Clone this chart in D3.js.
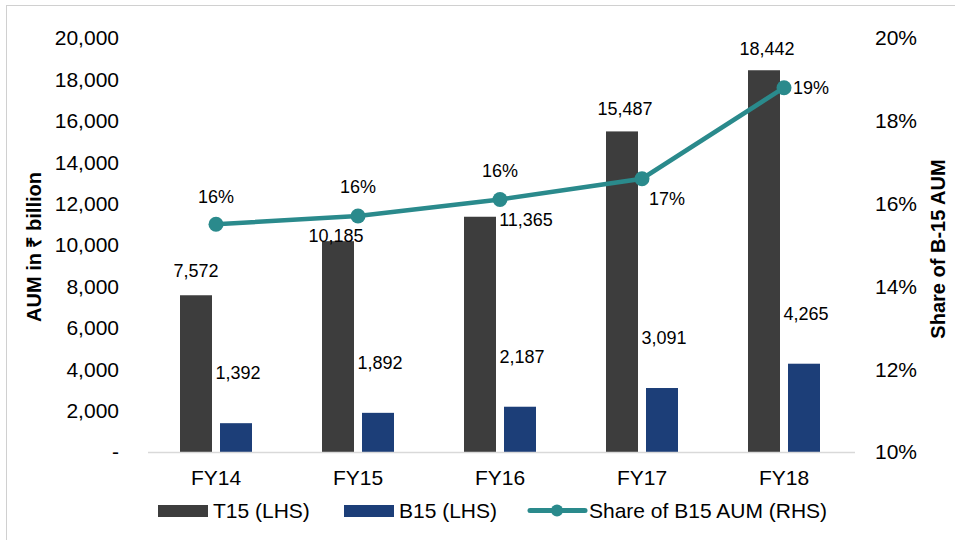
<!DOCTYPE html>
<html>
<head>
  <meta charset="utf-8">
  <script src="https://d3js.org/d3.v7.min.js"></script>
  <style>
    body { margin: 0; background: #fff; }
    svg text { font-family: "Liberation Sans", Arial, sans-serif; fill: #000; }
  </style>
</head>
<body>
  <svg width="955" height="540"></svg>

  <script>
    // chart data
    var years = ["FY14", "FY15", "FY16", "FY17", "FY18"];
    var t15 = [7572, 10185, 11365, 15487, 18442];
    var b15 = [1392, 1892, 2187, 3091, 4265];
    var share = [15.5, 15.7, 16.1, 16.6, 18.8];
    var shareLabels = ["16%", "16%", "16%", "17%", "19%"];
    var leftTicks = [0, 2000, 4000, 6000, 8000, 10000, 12000, 14000, 16000, 18000, 20000];
    var rightTicks = [10, 12, 14, 16, 18, 20];

    var svg = d3.select("svg");

    // outer frame
    svg.append("rect")
      .attr("x", 6.5).attr("y", 5.5)
      .attr("width", 1000).attr("height", 1000)
      .attr("fill", "none")
      .attr("stroke", "#d0d0d0");

    var x = d3.scaleBand().domain(years).range([145, 855]);
    var yL = d3.scaleLinear().domain([0, 20000]).range([452, 38]);
    var yR = d3.scaleLinear().domain([10, 20]).range([452, 38]);

    var barW = 32, gap = 8;
    var fmt = d3.format(",");
    var teal = "#2a8a8c";

    // left ticks
    svg.append("g").selectAll("text")
      .data(leftTicks).enter().append("text")
      .attr("x", 119)
      .attr("y", d => yL(d))
      .attr("dy", "0.35em")
      .attr("text-anchor", "end")
      .style("font-size", "21px")
      .text(d => d === 0 ? "-" : fmt(d));

    // right ticks
    svg.append("g").selectAll("text")
      .data(rightTicks).enter().append("text")
      .attr("x", 875)
      .attr("y", d => yR(d))
      .attr("dy", "0.35em")
      .style("font-size", "21px")
      .text(d => d + "%");

    // axis titles
    svg.append("text")
      .attr("transform", "translate(34,247) rotate(-90)")
      .attr("text-anchor", "middle")
      .attr("dy", "0.35em")
      .style("font-size", "20px").style("font-weight", "bold")
      .text("AUM in ₹ billion");

    svg.append("text")
      .attr("transform", "translate(938,249) rotate(-90)")
      .attr("text-anchor", "middle")
      .attr("dy", "0.35em")
      .style("font-size", "20px").style("font-weight", "bold")
      .text("Share of B-15 AUM");

    // bars
    var cx = d => x(d) + x.bandwidth() / 2;

    svg.append("g").selectAll("rect")
      .data(years).enter().append("rect")
      .attr("x", (d) => cx(d) - gap / 2 - barW)
      .attr("y", (d, i) => yL(t15[i]))
      .attr("width", barW)
      .attr("height", (d, i) => yL(0) - yL(t15[i]))
      .attr("fill", "#3d3d3d");

    svg.append("g").selectAll("rect")
      .data(years).enter().append("rect")
      .attr("x", (d) => cx(d) + gap / 2)
      .attr("y", (d, i) => yL(b15[i]))
      .attr("width", barW)
      .attr("height", (d, i) => yL(0) - yL(b15[i]))
      .attr("fill", "#1c3e78");

    // baseline
    svg.append("line")
      .attr("x1", 148).attr("x2", 855)
      .attr("y1", 452.5).attr("y2", 452.5)
      .attr("stroke", "#d9d9d9").attr("stroke-width", 1.5);

    // category labels
    svg.append("g").selectAll("text")
      .data(years).enter().append("text")
      .attr("x", d => cx(d))
      .attr("y", 478)
      .attr("dy", "0.35em")
      .attr("text-anchor", "middle")
      .style("font-size", "21px")
      .text(d => d);

    // T15 value labels (some nudged like the original)
    var t15Off = [[-20, -25], [-22, -5], [26, 3], [-17, -23], [-17, -22]];
    svg.append("g").selectAll("text")
      .data(years).enter().append("text")
      .attr("x", (d, i) => cx(d) + t15Off[i][0])
      .attr("y", (d, i) => yL(t15[i]) + t15Off[i][1])
      .attr("dy", "0.35em")
      .attr("text-anchor", "middle")
      .style("font-size", "18px")
      .text((d, i) => fmt(t15[i]));

    // B15 value labels
    svg.append("g").selectAll("text")
      .data(years).enter().append("text")
      .attr("x", d => cx(d) + 22)
      .attr("y", (d, i) => yL(b15[i]) - 50)
      .attr("dy", "0.35em")
      .attr("text-anchor", "middle")
      .style("font-size", "18px")
      .text((d, i) => fmt(b15[i]));

    // share line
    var line = d3.line()
      .x((d, i) => cx(years[i]))
      .y(d => yR(d));

    svg.append("path")
      .datum(share)
      .attr("d", line)
      .attr("fill", "none")
      .attr("stroke", teal)
      .attr("stroke-width", 4.5);

    svg.append("g").selectAll("circle")
      .data(share).enter().append("circle")
      .attr("cx", (d, i) => cx(years[i]))
      .attr("cy", d => yR(d))
      .attr("r", 7.5)
      .attr("fill", teal);

    var shareOff = [[0, -28], [0, -29], [0, -29], [25, 20], [9, 0]];
    svg.append("g").selectAll("text")
      .data(share).enter().append("text")
      .attr("x", (d, i) => cx(years[i]) + shareOff[i][0])
      .attr("y", (d, i) => yR(d) + shareOff[i][1])
      .attr("dy", "0.35em")
      .attr("text-anchor", (d, i) => i === 4 ? "start" : "middle")
      .style("font-size", "18px")
      .text((d, i) => shareLabels[i]);

    // legend
    var lg = svg.append("g");
    lg.append("rect").attr("x", 158).attr("y", 505).attr("width", 50).attr("height", 12).attr("fill", "#3d3d3d");
    lg.append("text").attr("x", 213).attr("y", 511).attr("dy", "0.35em").style("font-size", "21px").text("T15 (LHS)");
    lg.append("rect").attr("x", 344).attr("y", 505).attr("width", 50).attr("height", 12).attr("fill", "#1c3e78");
    lg.append("text").attr("x", 399).attr("y", 511).attr("dy", "0.35em").style("font-size", "21px").text("B15 (LHS)");
    lg.append("line").attr("x1", 530).attr("x2", 585).attr("y1", 510.5).attr("y2", 510.5)
      .attr("stroke", teal).attr("stroke-width", 5).attr("stroke-linecap", "round");
    lg.append("circle").attr("cx", 557).attr("cy", 510.5).attr("r", 6).attr("fill", teal);
    lg.append("text").attr("x", 589).attr("y", 511).attr("dy", "0.35em").style("font-size", "21px").text("Share of B15 AUM (RHS)");
  </script>
</body>
</html>
